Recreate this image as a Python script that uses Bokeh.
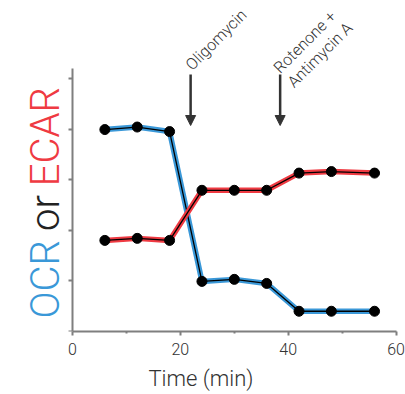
from bokeh.plotting import figure
from bokeh.models import Range1d, FixedTicker, Arrow, NormalHead
from bokeh.core.properties import value
from bokeh.embed import file_html
from bokeh.resources import INLINE

# Data
time = [6, 12, 18, 24, 30, 36, 42, 48, 56]
ocr = [3.99, 4.04, 3.95, 0.99, 1.03, 0.95, 0.40, 0.40, 0.40]
ecar = [1.80, 1.84, 1.80, 2.79, 2.79, 2.79, 3.13, 3.16, 3.13]
x_ticks = [0, 20, 40, 60]
x_minor = [10, 30, 50]
y_ticks = [0, 1, 2, 3, 4, 5]
inj_time = [21.9, 38.5]
inj_labels = ["Oligomycin", "Rotenone +", "Antimycin A"]
ylabel_parts = ["OCR", "or", "ECAR"]

FONT = "Roboto Light, Roboto"
BLUE = "#3a98d8"
RED = "#ef3a42"
AXC = "#7f7f7f"

p = figure(width=405, height=394, output_backend="svg", toolbar_location=None,
           x_range=Range1d(-72 / 5.393, 61), y_range=Range1d(0, 6.54),
           min_border_left=0, min_border_right=4, min_border_top=0, min_border_bottom=63)
p.outline_line_color = None
p.xgrid.visible = False
p.ygrid.visible = False
p.background_fill_color = "white"

xa = p.xaxis[0]
xa.ticker = FixedTicker(ticks=x_ticks, minor_ticks=x_minor)
xa.bounds = (0, 60)
xa.axis_line_color = AXC
xa.axis_line_width = 2
xa.major_tick_line_color = AXC
xa.major_tick_line_width = 2
xa.major_tick_out = 4
xa.major_tick_in = 0
xa.minor_tick_line_color = AXC
xa.minor_tick_line_width = 2
xa.minor_tick_out = 2
xa.minor_tick_in = 0
xa.major_label_text_font = FONT
xa.major_label_text_font_size = "16px"
xa.major_label_text_color = "#333333"
xa.major_label_standoff = 7
xa.axis_label = "Time (min)"
xa.axis_label_text_font = FONT
xa.axis_label_text_font_size = "22px"
xa.axis_label_text_font_style = "normal"
xa.axis_label_text_color = "#333333"
xa.axis_label_standoff = 8

ya = p.yaxis[0]
ya.fixed_location = 0
ya.ticker = FixedTicker(ticks=y_ticks, minor_ticks=[])
ya.bounds = (0, 5.2)
ya.axis_line_color = AXC
ya.axis_line_width = 2
ya.major_tick_line_color = AXC
ya.major_tick_line_width = 2
ya.major_tick_out = 4
ya.major_tick_in = 0
ya.minor_tick_line_color = None
ya.major_label_overrides = {t: "" for t in y_ticks}

# Lines
p.line(time, ocr, line_color=BLUE, line_width=5.5)
p.line(time, ocr, line_color="black", line_width=1.3)
p.line(time, ecar, line_color=RED, line_width=5.5)
p.line(time, ecar, line_color="black", line_width=1.3)
p.scatter(time, ocr, size=10, color="black")
p.scatter(time, ecar, size=10, color="black")

# Injection arrows
for t in inj_time:
    p.add_layout(Arrow(x_start=t, y_start=5.08, x_end=t, y_end=4.07,
                       line_color="#333333", line_width=2.5,
                       end=NormalHead(size=10, fill_color="#333333", line_color="#333333")))

p.text(x=[21.5, 37.8, 40.4], y=[5.22, 5.16, 4.88], text=inj_labels, angle=0.785,
       text_align="left", text_baseline="alphabetic", text_font=value(FONT),
       text_font_size="16px", text_color="#333333")

# Y label in colours
p.text(x=[-5.0] * 3, y=[1.03, 2.34, 3.85], text=ylabel_parts, angle=90, angle_units="deg",
       text_align="center", text_baseline="alphabetic",
       text_font=value(FONT), text_font_size="40px",
       text_color=[BLUE, "#222222", RED])

open("out.html", "w").write(file_html(p, INLINE))
